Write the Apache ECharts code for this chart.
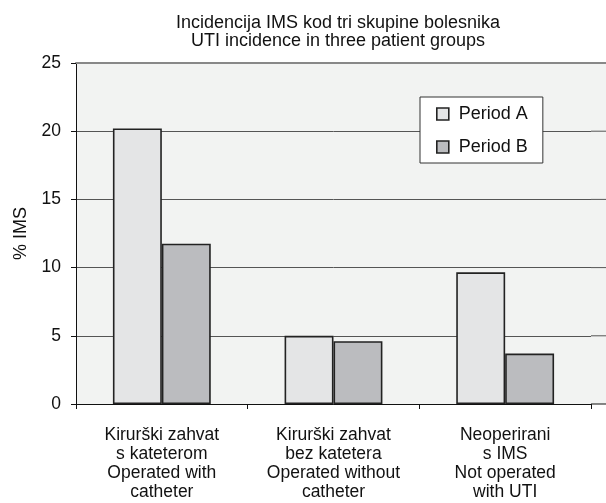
<!DOCTYPE html>
<html><head><meta charset="utf-8">
<script src="https://cdn.jsdelivr.net/npm/echarts@6/dist/echarts.min.js"></script>
<style>html,body{margin:0;padding:0;background:#fff}#c{width:606px;height:503px}</style>
</head><body><div id="c"></div>
<script>
const titleLines = ['Incidencija IMS kod tri skupine bolesnika', 'UTI incidence in three patient groups'];
const categories = [
  'Kirurški zahvat\ns kateterom\nOperated with\ncatheter',
  'Kirurški zahvat\nbez katetera\nOperated without\ncatheter',
  'Neoperirani\ns IMS\nNot operated\nwith UTI'
];
const periodA = [20.2, 5.0, 9.65];
const periodB = [11.75, 4.6, 3.7];
const yTicks = [0, 5, 10, 15, 20, 25];
const yName = '% IMS';

const FONT = 'Liberation Sans, Arial, sans-serif';
const chart = echarts.init(document.getElementById('c'), null, {renderer: 'canvas'});
const barStyle = (c) => ({color: c, borderColor: '#222', borderWidth: 1.6});
chart.setOption({
  animation: false,
  textStyle: {fontFamily: FONT},
  title: {
    text: titleLines.join('\n'), left: 333, top: 9, textAlign: 'center',
    textStyle: {fontSize: 18, fontWeight: 'normal', color: '#111', lineHeight: 18, fontFamily: FONT}
  },
  grid: {left: 76, right: 15, top: 63, bottom: 99, show: true, backgroundColor: '#f2f3f2', borderWidth: 0},
  legend: {
    orient: 'vertical', left: 420, top: 97,
    backgroundColor: '#fff', borderColor: '#333', borderWidth: 1,
    padding: [8, 15, 7, 16], itemGap: 15, itemWidth: 12, itemHeight: 12,
    textStyle: {fontSize: 18, color: '#111', fontFamily: FONT, padding: [0, 0, 0, 5]},
    data: [{name: 'Period A', icon: 'rect', itemStyle: barStyle('#e4e5e6')},
           {name: 'Period B', icon: 'rect', itemStyle: barStyle('#bbbcbf')}]
  },
  xAxis: [{
    type: 'category', data: categories, position: 'bottom',
    axisLine: {lineStyle: {color: '#111', width: 1}},
    axisTick: {show: true, length: 5, lineStyle: {color: '#111'}},
    axisLabel: {interval: 0, fontSize: 17.5, color: '#111', lineHeight: 19, margin: 22, fontFamily: FONT},
    splitLine: {show: false}
  }, {
    type: 'category', data: categories, position: 'top',
    axisLine: {lineStyle: {color: '#888', width: 2}},
    axisTick: {show: false}, axisLabel: {show: false}
  }],
  yAxis: {
    type: 'value', min: yTicks[0], max: yTicks[yTicks.length - 1], interval: 5,
    name: yName, nameLocation: 'middle', nameGap: 46, nameRotate: 90,
    nameTextStyle: {fontSize: 18, color: '#111', fontFamily: FONT},
    axisLine: {show: true, lineStyle: {color: '#111', width: 1}},
    axisTick: {show: true, length: 5, lineStyle: {color: '#111'}},
    axisLabel: {fontSize: 17.5, color: '#111', margin: 15, fontFamily: FONT},
    splitLine: {show: true, lineStyle: {color: '#555', width: 1}}
  },
  series: [
    {name: 'Period A', type: 'bar', data: periodA, barGap: '0%', barCategoryGap: '43%', itemStyle: barStyle('#e4e5e6')},
    {name: 'Period B', type: 'bar', data: periodB, barGap: '0%', barCategoryGap: '43%', itemStyle: barStyle('#bbbcbf')}
  ]
});
// extend the plot background and gridlines to the right edge of the picture (cropped plot)
const gridRect = chart.getModel().getComponent('grid').coordinateSystem.getRect();
const x0 = gridRect.x + gridRect.width, x1 = 606;
const g = [{type: 'rect', shape: {x: x0, y: gridRect.y, width: x1 - x0, height: gridRect.height}, style: {fill: '#f2f3f2'}, z: -1, silent: true}];
yTicks.forEach(v => {
  const py = chart.convertToPixel({yAxisIndex: 0}, v);
  const isTop = v === yTicks[yTicks.length - 1];
  g.push({type: 'line', shape: {x1: x0, y1: py, x2: x1, y2: py},
    style: {stroke: isTop ? '#888' : (v === 0 ? '#111' : '#555'), lineWidth: isTop ? 2 : 1}, silent: true});
});
chart.setOption({graphic: g});
</script></body></html>
